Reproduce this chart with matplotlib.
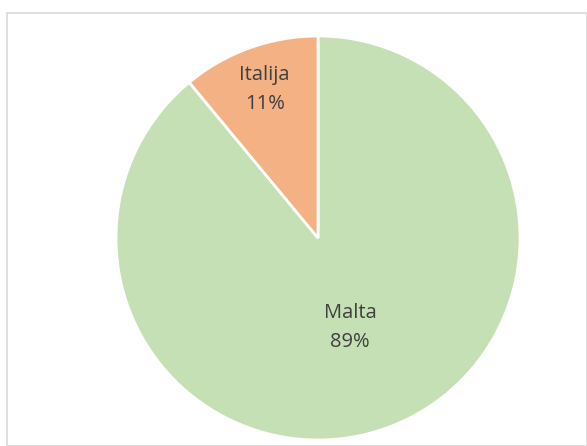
import matplotlib.pyplot as plt
import numpy as np
from matplotlib.patches import Rectangle

labels = ["Malta", "Italija"]
values = [89, 11]
colors = ["#c5e0b4", "#f4b183"]
label_dist = [0.47, 0.78]

W, H = 587, 446
fig = plt.figure(figsize=(W / 100, H / 100), dpi=100)
fig.patch.set_facecolor("white")

# chart area border
fig.add_artist(Rectangle((7 / W, 0), (W - 7) / W, (H - 13) / H, transform=fig.transFigure,
                         fill=False, edgecolor="#d9d9d9", linewidth=1.2))

cx, cy, r = 318, 238, 202
ax = fig.add_axes([(cx - r) / W, (H - cy - r) / H, 2 * r / W, 2 * r / H])
wedges, _ = ax.pie(values, colors=colors, startangle=90, counterclock=False,
                   wedgeprops=dict(edgecolor="white", linewidth=2))
ax.set_xlim(-1, 1)
ax.set_ylim(-1, 1)
ax.set_aspect("auto")
ax.axis("off")

total = sum(values)
for w, lab, v, d in zip(wedges, labels, values, label_dist):
    mid = np.deg2rad((w.theta1 + w.theta2) / 2)
    x, y = d * np.cos(mid), d * np.sin(mid)
    ax.text(x, y, f"{lab}\n{round(100 * v / total)}%", ha="center", va="center",
            fontsize=14.5, color="#404040", family="Open Sans", linespacing=1.6)

fig.savefig("out.png", dpi=100)
